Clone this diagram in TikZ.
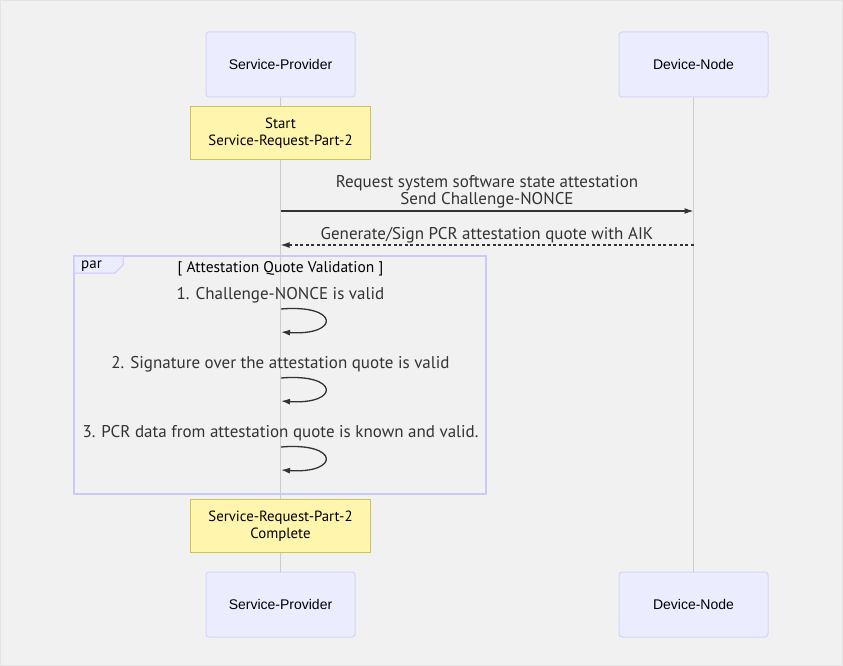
\documentclass[tikz,border=0pt]{standalone}
\usepackage{fontspec}
\setmainfont{PT Sans}
\setsansfont{Liberation Sans}
\usetikzlibrary{arrows.meta,positioning}

\definecolor{bggray}{HTML}{F1F1F1}
\definecolor{edgegray}{HTML}{E4E4E4}
\definecolor{actorfill}{HTML}{ECECFF}
\definecolor{actorline}{HTML}{D4D4FA}
\definecolor{parline}{HTML}{CACAF8}
\definecolor{notefill}{HTML}{FFF5AD}
\definecolor{noteline}{HTML}{C8C650}
\definecolor{lifegray}{HTML}{CCCCCC}
\definecolor{msggray}{HTML}{333333}

\tikzset{
    actor/.style={draw=actorline, fill=actorfill, rounded corners=3pt, line width=1pt,
        minimum width=149pt, minimum height=65pt, font=\sffamily\fontsize{14}{16}\selectfont},
    notebox/.style={draw=noteline, fill=notefill, line width=1pt, minimum width=180pt,
        minimum height=53pt, align=center, font=\fontsize{14.8}{17}\selectfont},
    msgtext/.style={align=center, font=\fontsize{17}{17.5}\selectfont, text=msggray},
    lifeline/.style={draw=lifegray, line width=0.8pt},
    msgarrow/.style={draw=msggray, line width=1.3pt, -{Latex[length=9pt,width=6pt]}},
    replyarrow/.style={msgarrow, dash pattern=on 3pt off 2.5pt},
    selfloop/.style={draw=msggray, line width=1.3pt, -{Latex[length=9pt,width=6pt]}},
}

\begin{document}
\begin{tikzpicture}[x=1pt,y=-1pt]
    \filldraw[fill=bggray,draw=edgegray,line width=1pt] (0.5,0.5) rectangle (842.5,665.5);

    % actors
    \node[actor] (sp) at (280.5,64.5) {Service-Provider};
    \node[actor] (dn) at (693.5,64.5) {Device-Node};
    \node[actor] (spb) at (280.5,604.5) {Service-Provider};
    \node[actor] (dnb) at (693.5,604.5) {Device-Node};

    % lifelines
    \draw[lifeline] (sp.south) -- (spb.north);
    \draw[lifeline] (dn.south) -- (dnb.north);

    % start note
    \node[notebox] (start) at (280.5,133) {Start\\Service-Request-Part-2};

    % messages
    \coordinate (m1a) at (280.5,211);
    \coordinate (m1b) at (693.5,211);
    \draw[msgarrow] (m1a) -- (m1b);
    \node[msgtext] (m1t) at (487,192) {Request system software state attestation\\Send Challenge-NONCE};

    \coordinate (m2a) at (693.5,245);
    \coordinate (m2b) at (280.5,245);
    \draw[replyarrow] (m2a) -- (m2b);
    \node[msgtext] (m2t) at (487,235) {Generate/Sign PCR attestation quote with AIK};

    % par block
    \draw[parline,line width=1.5pt] (74,256) rectangle (486,494);
    \filldraw[draw=parline,fill=actorfill,line width=1pt] (74,256) -- (123,256) -- (123,265) -- (115,273) -- (74,273) -- cycle;
    \node[font=\fontsize{15}{15}\selectfont,text=black,anchor=west,inner xsep=0pt] (partag) at (81,266.5) {par};
    \node[font=\fontsize{15.5}{15}\selectfont,text=black] (partitle) at (280.5,268.5) {[ Attestation Quote Validation ]};

    % self checks
    \foreach \y/\txt [count=\i] in {295/{1. Challenge-NONCE is valid},
            364/{2. Signature over the attestation quote is valid},
            433/{3. PCR data from attestation quote is known and valid.}} {
        \node[msgtext] (chk\i) at (280.5,\y) {\txt};
        \coordinate (loop\i a) at (281,\y+14);
        \coordinate (loop\i b) at (281,\y+37);
        \draw[selfloop] (loop\i a) .. controls (340,\y+9) and (340,\y+41) .. (loop\i b);
    }

    % end note
    \node[notebox] (done) at (280.5,526) {Service-Request-Part-2\\Complete};
\end{tikzpicture}
\end{document}
